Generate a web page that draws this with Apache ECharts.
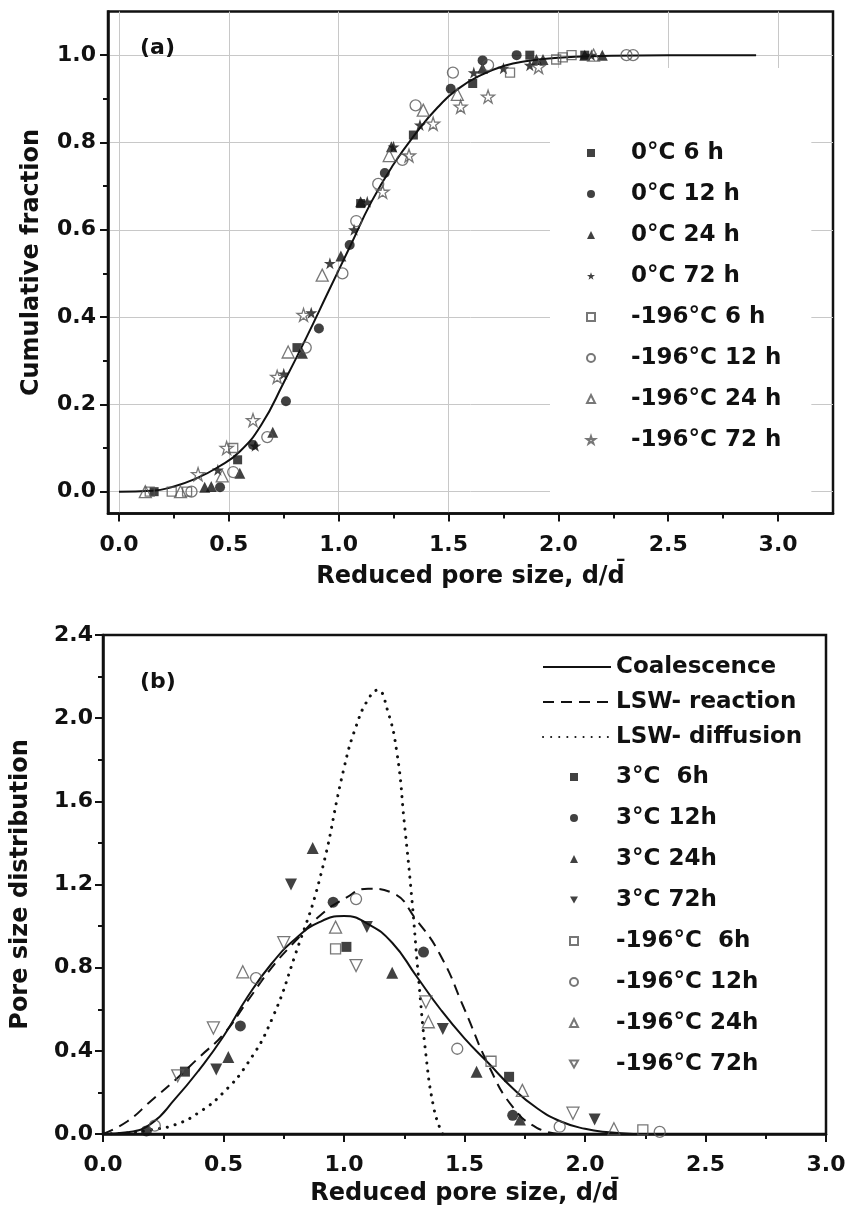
<!DOCTYPE html>
<html>
<head>
<meta charset="utf-8">
<script src="https://cdn.jsdelivr.net/npm/echarts@6/dist/echarts.min.js"></script>
<style>
html, body { margin: 0; padding: 0; background: #fff; }
#chart { width: 849px; height: 1226px; }
</style>
</head>
<body>
<div id="chart"></div>
<script>
// ---------- panel (a) : cumulative fraction ----------
const xTicksA = [0, 0.5, 1, 1.5, 2, 2.5, 3];
const xMinorA = [0.25, 0.75, 1.25, 1.75, 2.25, 2.75];
const yTicksA = [0, 0.2, 0.4, 0.6, 0.8, 1.0];
const yMinorA = [0.1, 0.3, 0.5, 0.7, 0.9];

const fitA = [[0,0],[0.15,0.002],[0.25,0.012],[0.35,0.03],[0.45,0.056],[0.55,0.092],[0.65,0.155],
  [0.75,0.25],[0.85,0.35],[0.95,0.455],[1.05,0.56],[1.15,0.665],[1.25,0.75],[1.35,0.82],[1.45,0.88],
  [1.55,0.925],[1.65,0.955],[1.75,0.975],[1.85,0.986],[2.0,0.994],[2.2,0.998],[2.5,1.0],[2.9,1.0]];

const a0c6h  = [[0.16,0.0],[0.54,0.073],[0.81,0.33],[1.1,0.66],[1.34,0.817],[1.61,0.935],[1.87,1.0],[2.12,1.0]];
const a0c12h = [[0.46,0.01],[0.61,0.107],[0.76,0.207],[0.91,0.374],[1.05,0.565],[1.21,0.73],[1.51,0.923],[1.655,0.988],[1.81,1.0]];
const a0c24h = [[0.39,0.01],[0.42,0.012],[0.55,0.042],[0.70,0.136],[0.835,0.317],[1.01,0.54],[1.10,0.664],[1.24,0.79],[1.655,0.97],[1.90,0.99],[1.93,0.99],[2.12,1.0],[2.2,1.0]];
const a0c72h = [[0.45,0.05],[0.62,0.105],[0.75,0.27],[0.875,0.41],[0.96,0.523],[1.07,0.60],[1.13,0.664],[1.25,0.79],[1.37,0.84],[1.615,0.96],[1.75,0.97],[1.87,0.977],[2.15,1.0]];
const a196c6h  = [[0.14,0.0],[0.24,0.0],[0.31,0.0],[0.52,0.10],[1.78,0.96],[1.99,0.99],[2.02,0.995],[2.06,1.0]];
const a196c12h = [[0.33,0.0],[0.52,0.045],[0.675,0.125],[0.85,0.33],[1.017,0.50],[1.08,0.62],[1.18,0.705],[1.29,0.76],[1.35,0.885],[1.52,0.96],[1.68,0.977],[2.31,1.0],[2.34,1.0]];
const a196c24h = [[0.12,0.0],[0.28,0.0],[0.47,0.036],[0.77,0.32],[0.925,0.496],[1.23,0.77],[1.385,0.874],[1.54,0.91],[2.16,1.0]];
const a196c72h = [[0.36,0.04],[0.49,0.10],[0.61,0.164],[0.72,0.263],[0.84,0.405],[1.20,0.687],[1.32,0.77],[1.43,0.843],[1.555,0.882],[1.68,0.905],[1.91,0.973]];

// ---------- panel (b) : pore size distribution ----------
const coalescence = [[0,0],[0.1,0.008],[0.2,0.05],[0.3,0.17],[0.4,0.31],[0.5,0.47],[0.6,0.66],[0.7,0.82],
  [0.8,0.94],[0.9,1.02],[1.0,1.048],[1.1,1.01],[1.2,0.92],[1.3,0.76],[1.4,0.6],[1.5,0.46],[1.6,0.34],
  [1.7,0.22],[1.8,0.125],[1.9,0.06],[2.0,0.025],[2.1,0.008],[2.2,0.0]];
const lswReaction = [[0,0],[0.1,0.06],[0.2,0.16],[0.3,0.26],[0.4,0.37],[0.5,0.48],[0.6,0.64],[0.7,0.80],
  [0.8,0.93],[0.9,1.05],[1.0,1.13],[1.1,1.18],[1.2,1.16],[1.3,1.03],[1.4,0.86],[1.5,0.6],[1.6,0.33],
  [1.7,0.13],[1.8,0.03],[1.9,0.0]];
const lswDiffusion = [[0,0],[0.1,0.005],[0.2,0.02],[0.3,0.045],[0.4,0.105],[0.5,0.2],[0.6,0.34],[0.7,0.55],
  [0.8,0.87],[0.9,1.23],[1.0,1.76],[1.05,1.96],[1.1,2.09],[1.14,2.135],[1.18,2.04],[1.22,1.83],[1.25,1.5],
  [1.28,1.15],[1.31,0.74],[1.34,0.38],[1.37,0.14],[1.4,0.02],[1.41,0.0]];

const b3c6h  = [[0.34,0.30],[1.01,0.90],[1.685,0.275]];
const b3c12h = [[0.18,0.015],[0.57,0.52],[0.955,1.115],[1.33,0.875],[1.70,0.09]];
const b3c24h = [[0.52,0.37],[0.87,1.375],[1.20,0.775],[1.55,0.30],[1.73,0.07]];
const b3c72h = [[0.47,0.31],[0.78,1.20],[1.095,0.995],[1.41,0.505],[2.04,0.07]];
const b196c6h  = [[0.965,0.89],[1.61,0.35],[2.24,0.02]];
const b196c12h = [[0.215,0.04],[0.635,0.75],[1.05,1.13],[1.47,0.41],[1.895,0.035],[2.31,0.01]];
const b196c24h = [[0.58,0.78],[0.965,0.995],[1.35,0.54],[1.74,0.21],[2.12,0.025]];
const b196c72h = [[0.31,0.28],[0.458,0.51],[0.75,0.92],[1.05,0.81],[1.34,0.635],[1.95,0.10]];

const STAR = 'path://M12,0L14.9,8.6L24,8.6L16.6,14L19.4,22.6L12,17.3L4.6,22.6L7.4,14L0,8.6L9.1,8.6Z';
const DOWN = 'path://M0,0L20,0L10,17.3Z';
const INK = '#111';
const OPEN = '#555';
const font = { fontFamily: 'DejaVu Sans', fontWeight: 'bold', fontSize: 22, color: INK };
const legendFont = Object.assign({}, font, { fontSize: 23, lineHeight: 23 });
const titleFont = Object.assign({}, font, { fontSize: 24, lineHeight: 24 });

function pts(name, data, symbol, size, open, axis) {
  return {
    name: name, type: 'scatter', data: data,
    xAxisIndex: axis, yAxisIndex: axis,
    symbol: symbol, symbolSize: size,
    itemStyle: open
      ? { color: 'rgba(255,255,255,0)', borderColor: OPEN, borderWidth: 1.3 }
      : { color: INK, borderWidth: 0 },
    z: 5
  };
}
function curve(name, data, axis, type) {
  return {
    name: name, type: 'line', data: data, xAxisIndex: axis, yAxisIndex: axis,
    symbol: 'none', smooth: 0.5,
    itemStyle: { color: 'rgba(0,0,0,0)' },
    lineStyle: { color: INK, width: type === 'dotted' ? 3 : 2,
      type: type === 'dashed' ? [11, 7] : type === 'dotted' ? [0.1, 8] : 'solid',
      cap: type === 'dotted' ? 'round' : 'butt' },
    z: 3
  };
}

const legendA = ['0°C 6 h', '0°C 12 h', '0°C 24 h', '0°C 72 h', '-196°C 6 h', '-196°C 12 h', '-196°C 24 h', '-196°C 72 h'];
const legendBLines = ['Coalescence', 'LSW- reaction', 'LSW- diffusion'];
const legendBPts = ['3°C  6h', '3°C 12h', '3°C 24h', '3°C 72h', '-196°C  6h', '-196°C 12h', '-196°C 24h', '-196°C 72h'];

const tickLine = { color: INK, width: 2 };
const axisLine = { onZero: false, lineStyle: { color: INK, width: 2.5 } };
const fmt = v => v.toFixed(1);

const option = {
  animation: false,
  backgroundColor: '#fff',
  textStyle: font,
  title: [
    { text: '(a)', left: 135, top: 32, textStyle: font },
    { text: '(b)', left: 135, top: 666, textStyle: font }
  ],
  grid: [
    { left: 108, top: 11.5, width: 725, height: 502, show: true, borderColor: INK, borderWidth: 2.5 },
    { left: 103, top: 635, width: 723, height: 499, show: true, borderColor: INK, borderWidth: 2.5 }
  ],
  legend: [
    { data: legendA, orient: 'vertical', left: 550, top: 68, padding: [73.5, 30, 60, 36],
      backgroundColor: '#fff', itemWidth: 8, itemHeight: 8, itemGap: 18,
      textStyle: Object.assign({ padding: [0, 0, 0, 31] }, legendFont) },
    { data: legendBLines, orient: 'vertical', left: 542, top: 655.5, padding: 0,
      itemWidth: 68, itemHeight: 14, itemGap: 12,
      itemStyle: { color: 'rgba(0,0,0,0)', borderWidth: 0 },
      textStyle: legendFont },
    { data: legendBPts, orient: 'vertical', left: 569, top: 765.5, padding: 0,
      itemWidth: 8, itemHeight: 8, itemGap: 18,
      textStyle: Object.assign({ padding: [0, 0, 0, 33] }, legendFont) }
  ],
  xAxis: [
    { gridIndex: 0, type: 'value', min: -0.05, max: 3.25, axisLine: axisLine,
      axisTick: { customValues: xTicksA, length: 8, lineStyle: tickLine },
      axisLabel: { customValues: xTicksA, formatter: fmt, margin: 21, ...font },
      splitLine: { show: true, lineStyle: { color: '#c8c8c8', width: 1 } },
      name: 'Reduced pore size, d/d\u0304', nameLocation: 'middle', nameGap: 51, nameTextStyle: titleFont },
    { gridIndex: 0, type: 'value', min: -0.05, max: 3.25, position: 'bottom',
      axisLine: { show: false, onZero: false },
      axisTick: { customValues: xMinorA, length: 5, lineStyle: tickLine },
      axisLabel: { show: false }, splitLine: { show: false } },
    { gridIndex: 1, type: 'value', min: 0, max: 3, interval: 0.5, axisLine: axisLine,
      axisTick: { length: 8, lineStyle: tickLine },
      minorTick: { show: true, splitNumber: 2, length: 5, lineStyle: tickLine },
      axisLabel: { formatter: fmt, margin: 20, ...font },
      splitLine: { show: false },
      name: 'Reduced pore size, d/d\u0304', nameLocation: 'middle', nameGap: 48, nameTextStyle: titleFont }
  ],
  yAxis: [
    { gridIndex: 0, type: 'value', min: -0.05, max: 1.1, axisLine: axisLine,
      axisTick: { customValues: yTicksA, length: 8, lineStyle: tickLine },
      axisLabel: { customValues: yTicksA, formatter: fmt, margin: 12, ...font },
      splitLine: { show: true, lineStyle: { color: '#c8c8c8', width: 1 } },
      name: 'Cumulative fraction', nameLocation: 'middle', nameGap: 64, nameTextStyle: titleFont },
    { gridIndex: 0, type: 'value', min: -0.05, max: 1.1, position: 'left',
      axisLine: { show: false, onZero: false },
      axisTick: { customValues: yMinorA, length: 5, lineStyle: tickLine },
      axisLabel: { show: false }, splitLine: { show: false } },
    { gridIndex: 1, type: 'value', min: 0, max: 2.4, interval: 0.4, axisLine: axisLine,
      axisTick: { length: 8, lineStyle: tickLine },
      minorTick: { show: true, splitNumber: 2, length: 5, lineStyle: tickLine },
      axisLabel: { formatter: fmt, margin: 10, ...font },
      splitLine: { show: false },
      name: 'Pore size distribution', nameLocation: 'middle', nameGap: 70, nameTextStyle: titleFont }
  ],
  series: [
    curve('fit', fitA, 0, 'solid'),
    pts(legendA[0], a0c6h, 'rect', 9, false, 0),
    pts(legendA[1], a0c12h, 'circle', 10, false, 0),
    pts(legendA[2], a0c24h, 'triangle', 11, false, 0),
    pts(legendA[3], a0c72h, STAR, 12, false, 0),
    pts(legendA[4], a196c6h, 'rect', 9, true, 0),
    pts(legendA[5], a196c12h, 'circle', 11, true, 0),
    pts(legendA[6], a196c24h, 'triangle', 12, true, 0),
    pts(legendA[7], a196c72h, STAR, 13, true, 0),

    curve(legendBLines[0], coalescence, 2, 'solid'),
    curve(legendBLines[1], lswReaction, 2, 'dashed'),
    curve(legendBLines[2], lswDiffusion, 2, 'dotted'),
    pts(legendBPts[0], b3c6h, 'rect', 10, false, 2),
    pts(legendBPts[1], b3c12h, 'circle', 11, false, 2),
    pts(legendBPts[2], b3c24h, 'triangle', 12, false, 2),
    pts(legendBPts[3], b3c72h, DOWN, 12, false, 2),
    pts(legendBPts[4], b196c6h, 'rect', 10, true, 2),
    pts(legendBPts[5], b196c12h, 'circle', 11, true, 2),
    pts(legendBPts[6], b196c24h, 'triangle', 12, true, 2),
    pts(legendBPts[7], b196c72h, DOWN, 12, true, 2)
  ]
};

const chart = echarts.init(document.getElementById('chart'));
chart.setOption(option);
window.onresize = () => { chart.resize(); };
</script>
</body>
</html>
